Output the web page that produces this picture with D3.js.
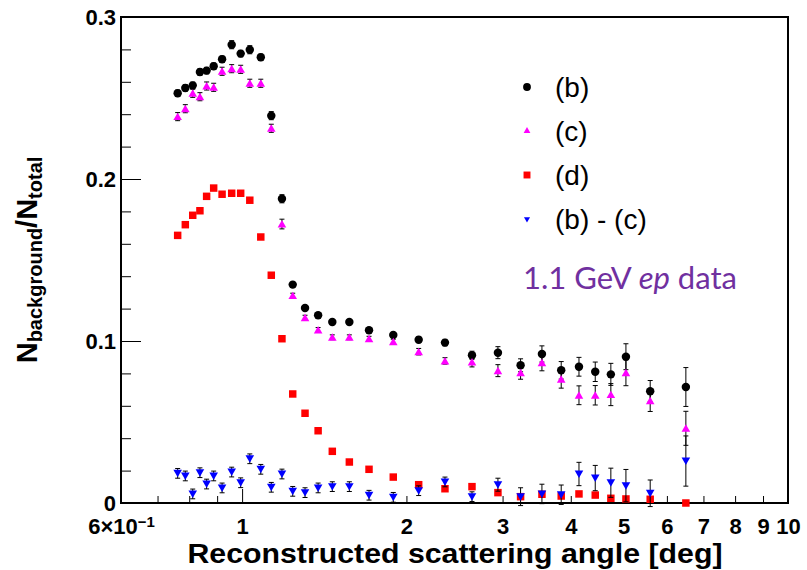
<!DOCTYPE html>
<html>
<head>
<meta charset="utf-8">
<script src="https://cdn.jsdelivr.net/npm/d3@7"></script>
<style>
	body { margin: 0; background: #fff; }
	svg { display: block; font-family: "Liberation Sans", Arial, Helvetica, sans-serif; }
	.axis text { font-weight: bold; font-size: 22px; fill: #000; }
	.axis line { stroke: #000; stroke-width: 1; }
	.axis path.domain { display: none; }
</style>
</head>
<body>
<svg id="chart" width="807" height="570"></svg>
<script>
// reconstructed scattering angle of each bin [deg]
var angle = [0.762, 0.787, 0.812, 0.837, 0.861, 0.887, 0.919, 0.957, 0.994, 1.033, 1.082,
	1.131, 1.183, 1.238, 1.304, 1.378, 1.463, 1.572, 1.708, 1.892, 2.106, 2.353, 2.637,
	2.942, 3.237, 3.542, 3.842, 4.141, 4.435, 4.737, 5.048, 5.592, 6.50];

// (b)
var fracB = [0.2529, 0.2562, 0.2578, 0.2660, 0.2669, 0.2696, 0.2739, 0.2829, 0.2774, 0.2798, 0.2751,
	0.2391, 0.1878, 0.1348, 0.1204, 0.1159, 0.1117, 0.1117, 0.1066, 0.1037, 0.1008, 0.0990, 0.0912,
	0.0928, 0.0850, 0.0920, 0.0819, 0.0841, 0.0810, 0.0794, 0.0903, 0.0690, 0.0716];
var errB = [0.002, 0.002, 0.002, 0.002, 0.002, 0.002, 0.002, 0.0025, 0.002, 0.0025, 0.002,
	0.0025, 0.0025, 0.0015, 0.0015, 0.0015, 0.0015, 0.0015, 0.0015, 0.0015, 0.0018, 0.002, 0.0025,
	0.0037, 0.004, 0.005, 0.0054, 0.0058, 0.006, 0.0068, 0.008, 0.0066, 0.012];

// (c)
var fracC = [0.2385, 0.2434, 0.2529, 0.2508, 0.2574, 0.2566, 0.2665, 0.2681, 0.2677, 0.2591, 0.2591,
	0.2313, 0.1722, 0.1280, 0.1144, 0.1068, 0.1023, 0.1023, 0.1014, 0.0996, 0.0934, 0.0877, 0.0870,
	0.0817, 0.0804, 0.0866, 0.0764, 0.0665, 0.0665, 0.0669, 0.0804, 0.0631, 0.0461];
var errC = [0.0025, 0.0025, 0.0025, 0.0025, 0.0025, 0.0025, 0.0025, 0.0025, 0.0025, 0.0025, 0.0025,
	0.0025, 0.003, 0.0015, 0.0015, 0.0015, 0.0015, 0.0015, 0.0015, 0.0015, 0.002, 0.002, 0.003,
	0.0037, 0.004, 0.005, 0.0055, 0.0058, 0.006, 0.0068, 0.008, 0.0066, 0.0105];

// (d)
var fracD = [0.1652, 0.1718, 0.1776, 0.1804, 0.1893, 0.1944, 0.1906, 0.1912, 0.1912, 0.1869, 0.1642,
	0.1406, 0.1014, 0.0673, 0.0554, 0.0446, 0.0319, 0.0253, 0.0208, 0.0160, 0.0113, 0.0088, 0.0101,
	0.0064, 0.0039, 0.0054, 0.0043, 0.0056, 0.0049, 0.0029, 0.0025, 0.0023, 0.0000];
var errD = [0.001, 0.001, 0.001, 0.001, 0.0012, 0.0012, 0.0012, 0.0012, 0.0012, 0.0012, 0.001,
	0.001, 0.001, 0.0008, 0.0008, 0.0008, 0.0008, 0.0008, 0.0008, 0.0008, 0.0008, 0.0008, 0.0008,
	0.0008, 0.0008, 0.0008, 0.0008, 0.0008, 0.0008, 0.0008, 0.0008, 0.0008, 0.0008];

// (b) - (c)
var fracBC = [0.0183, 0.0167, 0.0056, 0.0187, 0.0117, 0.0167, 0.0093, 0.0191, 0.0125, 0.0273, 0.0208,
	0.0097, 0.0179, 0.0072, 0.0064, 0.0093, 0.0101, 0.0101, 0.0048, 0.0035, 0.0076, 0.0130, 0.0039,
	0.0113, 0.0039, 0.0056, 0.0051, 0.0179, 0.0154, 0.0125, 0.0107, 0.0060, 0.0259];
var errBC = [0.003, 0.003, 0.003, 0.003, 0.003, 0.003, 0.003, 0.003, 0.003, 0.003, 0.003,
	0.003, 0.003, 0.003, 0.003, 0.003, 0.003, 0.003, 0.003, 0.003, 0.003, 0.003, 0.003,
	0.004, 0.0055, 0.006, 0.006, 0.0072, 0.0078, 0.009, 0.01, 0.0082, 0.0155];

// tick values
var xLabelTicks = [0.6, 1, 2, 3, 4, 5, 6, 7, 8, 9, 10];
var xMinorTicks = [0.7, 0.8, 0.9, 2, 3, 4, 5, 6, 7, 8, 9];
var xMajorTicks = [1, 10];
var yMajorTicks = [0, 0.1, 0.2, 0.3];
var yMinorTicks = [0.02, 0.04, 0.06, 0.08, 0.12, 0.14, 0.16, 0.18, 0.22, 0.24, 0.26, 0.28];

var legendLabels = ["(b)", "(c)", "(d)", "(b) - (c)"];

(function() {
	var svg = d3.select("#chart");

	// frame of the plot in pixels
	var frame = { left: 121, right: 788, top: 17, bottom: 503 };

	var x = d3.scaleLog().domain([0.6, 10]).range([frame.left, frame.right]);
	var y = d3.scaleLinear().domain([0, 0.3]).range([frame.bottom, frame.top]);

	// AXES
	var axes_layer = svg.append("g").classed("axes", true);

	axes_layer.append("rect")
		.attr("x", frame.left)
		.attr("y", frame.top)
		.attr("width", frame.right - frame.left)
		.attr("height", frame.bottom - frame.top)
		.attr("fill", "none")
		.attr("stroke", "#000")
		.attr("stroke-width", 2);

	// tick-only axes: drop the empty label nodes they create
	var ticksOnly = function(g, ax) {
		g.call(ax.tickFormat(""));
		g.selectAll("text").remove();
	};

	var xg = axes_layer.append("g").attr("class", "x axis")
		.attr("transform", "translate(0," + frame.bottom + ")");

	ticksOnly(xg.append("g"), d3.axisBottom(x).tickValues(xMinorTicks).tickSize(-7));
	ticksOnly(xg.append("g"), d3.axisBottom(x).tickValues(xMajorTicks).tickSize(-14));

	var xlab = xg.append("g").call(d3.axisBottom(x).tickValues(xLabelTicks).tickSize(0).tickPadding(15)
		.tickFormat(function(d) { return d < 1 ? "" : d3.format("d")(d); }));
	xlab.selectAll("line").remove();

	// the 6x10^-1 label at the left edge
	var first = xlab.selectAll(".tick text").filter(function(d) { return d === 0.6; });
	first.append("tspan").text("6\u00d710");
	first.append("tspan").attr("dy", "-0.45em").style("font-size", "15px").text("\u22121");

	var yg = axes_layer.append("g").attr("class", "y axis")
		.attr("transform", "translate(" + frame.left + ",0)");

	ticksOnly(yg.append("g"), d3.axisLeft(y).tickValues(yMinorTicks).tickSize(-10));
	yg.append("g").call(d3.axisLeft(y).tickValues(yMajorTicks).tickSize(-20).tickPadding(5)
		.tickFormat(function(d) { return d === 0 ? "0" : d3.format(".1f")(d); }));

	// axis titles
	axes_layer.append("text")
		.attr("x", 455)
		.attr("y", 563)
		.attr("text-anchor", "middle")
		.attr("textLength", 535)
		.attr("lengthAdjust", "spacingAndGlyphs")
		.style("font-weight", "bold")
		.style("font-size", "27px")
		.text("Reconstructed scattering angle [deg]");

	var ytitle = axes_layer.append("text")
		.attr("transform", "translate(37,260)rotate(-90)")
		.attr("text-anchor", "middle")
		.style("font-weight", "bold")
		.style("font-size", "29px");
	ytitle.append("tspan").text("N");
	ytitle.append("tspan").attr("dy", 5).style("font-size", "20px").text("background");
	ytitle.append("tspan").attr("dy", -5).text("/N");
	ytitle.append("tspan").attr("dy", 5).style("font-size", "20px").text("total");

	// DATA
	var data_layer = svg.append("g").classed("data", true);

	var circle = d3.symbol().type(d3.symbolCircle).size(56),
		tri = d3.symbol().type(d3.symbolTriangle).size(32),
		square = d3.symbol().type(d3.symbolSquare).size(56);

	var series = [
		{ vals: fracB, errs: errB, color: "#000000", shape: circle, rot: 0 },
		{ vals: fracC, errs: errC, color: "#ff00ff", shape: tri, rot: 0 },
		{ vals: fracD, errs: errD, color: "#ff0000", shape: square, rot: 0 },
		{ vals: fracBC, errs: errBC, color: "#0000ff", shape: tri, rot: 180 }
	];

	series.forEach(function(s) {
		var pts = angle.map(function(a, i) { return { a: a, v: s.vals[i], e: s.errs[i] }; });
		var g = data_layer.append("g");

		// error bars with small end caps
		var eb = g.selectAll("g.err").data(pts).enter().append("g").attr("class", "err")
			.attr("stroke", "#000").attr("stroke-width", 1);
		eb.append("line")
			.attr("x1", function(d) { return x(d.a); })
			.attr("x2", function(d) { return x(d.a); })
			.attr("y1", function(d) { return y(d.v - d.e); })
			.attr("y2", function(d) { return y(d.v + d.e); });
		[-1, 1].forEach(function(sign) {
			eb.append("line")
				.attr("x1", function(d) { return x(d.a) - 2.5; })
				.attr("x2", function(d) { return x(d.a) + 2.5; })
				.attr("y1", function(d) { return y(d.v + sign * d.e); })
				.attr("y2", function(d) { return y(d.v + sign * d.e); });
		});

		g.selectAll("path.mk").data(pts).enter().append("path").attr("class", "mk")
			.attr("d", s.shape)
			.attr("fill", s.color)
			.attr("transform", function(d) {
				var dy = s.shape === tri ? (s.rot ? -1 : 1) : 0;
				return "translate(" + x(d.a) + "," + (y(d.v) + dy) + ")rotate(" + s.rot + ")";
			});
	});

	// LEGEND
	var legend = svg.append("g").classed("legend", true);
	var lx = 527, ly0 = 87, lstep = 44;

	series.forEach(function(s, i) {
		var small = s.shape === tri ? d3.symbol().type(d3.symbolTriangle).size(s.rot ? 16 : 20) : d3.symbol().type(s === series[0] ? d3.symbolCircle : d3.symbolSquare).size(48);
		legend.append("path")
			.attr("d", small)
			.attr("fill", s.color)
			.attr("transform", "translate(" + lx + "," + (ly0 + i * lstep) + ")rotate(" + s.rot + ")");
		legend.append("text")
			.attr("x", 555)
			.attr("y", ly0 + i * lstep + 10)
			.style("font-size", "28px")
			.text(legendLabels[i]);
	});

	var note = legend.append("text")
		.attr("x", 523)
		.attr("y", 289)
		.attr("textLength", 214)
		.attr("lengthAdjust", "spacingAndGlyphs")
		.style("font-family", "Lato, 'Open Sans', sans-serif")
		.style("font-size", "31px")
		.attr("fill", "#7030a0");
	note.append("tspan").text("1.1 GeV ");
	note.append("tspan").style("font-style", "italic").text("ep");
	note.append("tspan").text(" data");
}());
</script>
</body>
</html>
